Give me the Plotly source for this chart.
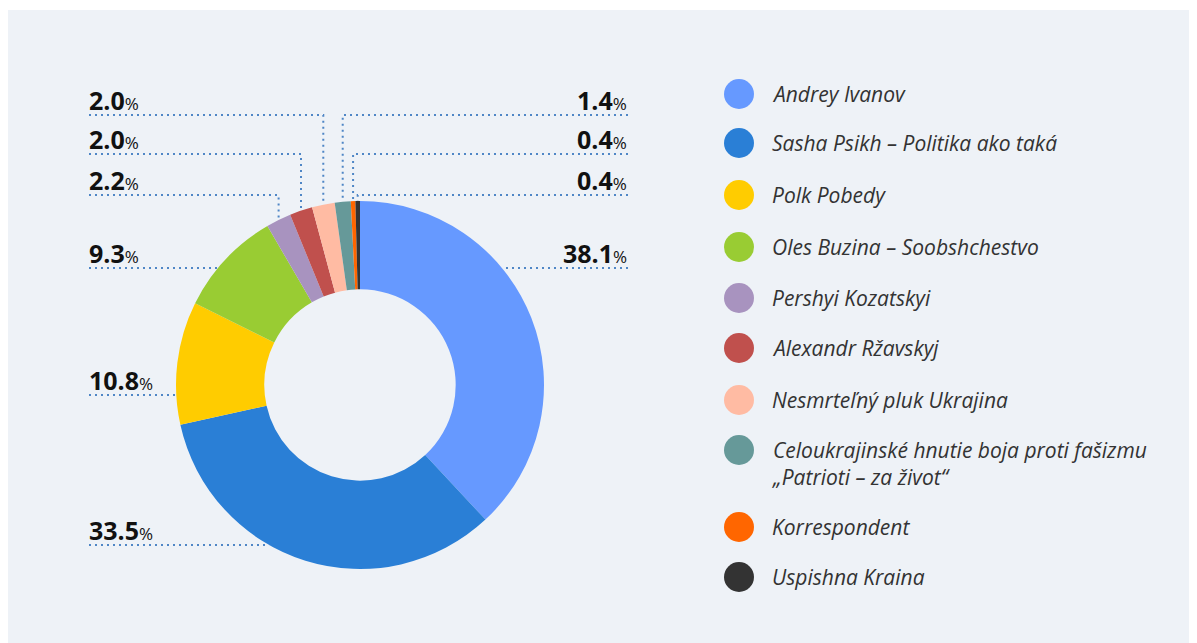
import math
import plotly.graph_objects as go

# ---- data ----
labels = ["Andrey Ivanov", "Sasha Psikh – Politika ako taká", "Polk Pobedy",
          "Oles Buzina – Soobshchestvo", "Pershyi Kozatskyi", "Alexandr Ržavskyj",
          "Nesmrteľný pluk Ukrajina",
          "Celoukrajinské hnutie boja proti fašizmu<br>„Patrioti – za život“",
          "Korrespondent", "Uspishna Kraina"]
values = [38.1, 33.5, 10.8, 9.3, 2.2, 2.0, 2.0, 1.4, 0.4, 0.4]
colors = ["#6699ff", "#2a7fd6", "#ffcc00", "#99cc33", "#a893bf", "#c0504d",
          "#ffbba3", "#669999", "#ff6600", "#333333"]

# ---- layout / style ----
W, H = 1197, 643
OFF = 8                             # page body margin of the html page
CX, CY, R = 360, 385, 184           # pie centre and radius in screen px
HOLE = 0.52
label_side = ["R", "L", "L", "L", "L", "L", "L", "R", "R", "R"]
label_line_y = [268, 545, 395, 268, 195, 154, 115, 115, 154, 195]
label_mode = ["edge", "edge", "edge", "edge", "elbow", "elbow", "elbow", "elbow", "elbow", "elbow"]
LEFT_X, RIGHT_X = 89, 628
LINE_COLOR = "#4f86c6"
legend_y = [94, 143, 195, 247, 298, 348, 400, 450, 527, 577]
NUM_FONT = "Open Sans"
LEG_FONT = "Open Sans"
LEG_SIZE = 21


def px(x):
    return (x - OFF) / W


def py(y):
    return 1 - (y - OFF) / H


fig = go.Figure()
fig.add_trace(go.Pie(
    labels=labels, values=values, sort=False, direction="clockwise", rotation=0,
    hole=HOLE, textinfo="none", hoverinfo="label+percent",
    marker=dict(colors=colors, line=dict(width=0)),
    domain=dict(x=[px(CX - R), px(CX + R)], y=[py(CY + R), py(CY - R)]),
    showlegend=False,
))

shapes = [dict(type="rect", xref="paper", yref="paper", x0=0, x1=px(1196),
               y0=0, y1=py(10), fillcolor="#eef2f7", line=dict(width=0),
               layer="below")]
annotations = []

total = sum(values)
cum = 0.0
for i, v in enumerate(values):
    mid = (cum + v / 2) / total * 2 * math.pi
    cum += v
    ly = label_line_y[i]
    side = label_side[i]
    if label_mode[i] == "edge":
        dy = CY - ly
        dx = math.sqrt(max(R * R - dy * dy, 0))
        ex = CX + dx if side == "R" else CX - dx
        pts = [(LEFT_X if side == "L" else RIGHT_X, ly), (ex, ly)]
    else:
        ex = CX + R * math.sin(mid)
        ey = CY - R * math.cos(mid)
        pts = [(LEFT_X if side == "L" else RIGHT_X, ly), (ex, ly), (ex, ey)]
    path = "M " + " L ".join(f"{px(a):.5f},{py(b):.5f}" for a, b in pts)
    shapes.append(dict(type="path", xref="paper", yref="paper", path=path,
                       line=dict(color=LINE_COLOR, width=2, dash="2px,4px")))
    annotations.append(dict(
        xref="paper", yref="paper",
        x=px(LEFT_X - 2) if side == "L" else px(RIGHT_X + 1),
        y=py(ly - 15), xanchor="left" if side == "L" else "right", yanchor="middle",
        text=f"<b>{v:.1f}</b><span style='font-size:17px;font-weight:400'>%</span>",
        showarrow=False, font=dict(family=NUM_FONT, size=25, color="#111111"),
    ))

# custom legend with circular markers
for i, lab in enumerate(labels):
    cy = legend_y[i]
    shapes.append(dict(type="circle", xref="paper", yref="paper",
                       x0=px(724), x1=px(754), y0=py(cy + 15), y1=py(cy - 15),
                       fillcolor=colors[i], line=dict(width=0)))
    multi = "<br>" in lab
    annotations.append(dict(xref="paper", yref="paper", x=px(770),
                            y=py(cy - 16) if multi else py(cy),
                            xanchor="left", yanchor="top" if multi else "middle",
                            align="left", text=f"<i>{lab}</i>", showarrow=False,
                            font=dict(family=LEG_FONT, size=LEG_SIZE, color="#333333")))

fig.update_layout(
    width=W, height=H, margin=dict(l=0, r=0, t=0, b=0),
    paper_bgcolor="#ffffff", plot_bgcolor="#ffffff",
    shapes=shapes, annotations=annotations, showlegend=False,
)
fig.write_html("out.html")
